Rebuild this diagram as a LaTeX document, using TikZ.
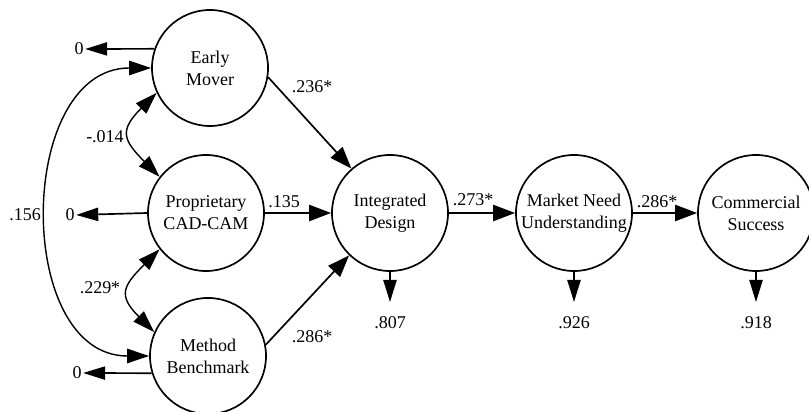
\documentclass[tikz,border=0pt]{standalone}
\usepackage{fontspec}
\setmainfont{Liberation Serif}
\usetikzlibrary{arrows.meta,positioning}

\begin{document}
\begin{tikzpicture}[x=0.025cm, y=0.025cm,
    latent/.style={draw, circle, line width=1.2pt, minimum size=2.9cm, inner sep=0pt,
        align=center, font=\fontsize{12.8}{15.8}\selectfont},
    lbl/.style={inner sep=1pt, font=\fontsize{12.8}{14}\selectfont},
    path/.style={-{Triangle[length=5.5mm,width=4mm]}, line width=1.2pt},
    res/.style={-{Triangle[length=5.5mm,width=3.3mm]}, line width=1.2pt},
    cov/.style={{Triangle[length=5.5mm,width=3.6mm]}-{Triangle[length=5.5mm,width=3.6mm]}, line width=1pt}]
    \useasboundingbox (0,0) rectangle (809,412);
    % constructs
    \node[latent] (EM) at (210,344) {Early\\Mover};
    \node[latent] (PC) at (206,199) {Proprietary\\CAD-CAM};
    \node[latent] (MB) at (208,56) {Method\\Benchmark};
    \node[latent] (ID) at (390,199) {Integrated\\Design};
    \node[latent] (MN) at (574,199) {Market Need\\Understanding};
    \node[latent] (CS) at (756,199) {Commercial\\Success};
    % exogenous residuals
    \node[lbl] (zEM) at (79,363) {0};
    \node[lbl] (zPC) at (70,197) {0};
    \node[lbl] (zMB) at (77,39) {0};
    \draw[res] (EM.161) -- (zEM.east);
    \draw[res] (PC.west) -- (zPC.east);
    \draw[res] (MB.197) -- (zMB.east);
    % correlations
    \draw[cov] (EM.west) to[out=180, in=180, looseness=1.2] (MB.west);
    \node[lbl] (c156) at (25,197) {.156};
    \draw[cov] (EM.205) to[out=225, in=135, looseness=1.6] (PC.142);
    \node[lbl] (c014) at (105,275) {-.014};
    \draw[cov] (PC.218) to[out=225, in=135, looseness=1.6] (MB.156);
    \node[lbl] (c229) at (100,124) {.229*};
    % paths
    \draw[path] (EM.-9) -- (ID.131);
    \node[lbl] (p236) at (312,325) {.236*};
    \draw[path, line width=1.8pt] (PC.east) -- (ID.west);
    \node[lbl] (p135) at (284,210) {.135};
    \draw[path] (MB.11) -- (ID.226);
    \node[lbl] (p286a) at (312,75) {.286*};
    \draw[path, line width=1.8pt] (ID.east) -- (MN.west);
    \node[lbl] (p273) at (473,212) {.273*};
    \draw[path, line width=1.8pt] (MN.east) -- (CS.west);
    \node[lbl] (p286b) at (657,210) {.286*};
    % endogenous residuals
    \coordinate (eID) at (390,110);
    \coordinate (eMN) at (574,110);
    \coordinate (eCS) at (756,110);
    \draw[res] (ID.south) -- (eID);
    \draw[res] (MN.south) -- (eMN);
    \draw[res] (CS.south) -- (eCS);
    \node[lbl] (r807) at (390,89) {.807};
    \node[lbl] (r926) at (574,89) {.926};
    \node[lbl] (r918) at (756,89) {.918};
\end{tikzpicture}
\end{document}
